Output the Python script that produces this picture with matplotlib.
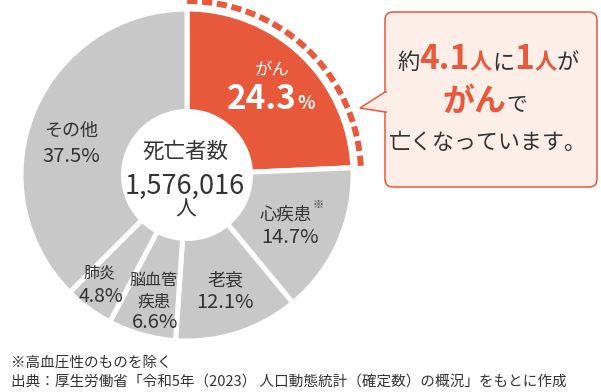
import numpy as np
import matplotlib
matplotlib.use('Agg')
import matplotlib.pyplot as plt
from matplotlib.patches import Circle, Arc, FancyBboxPatch, Polygon

plt.rcParams['font.family'] = ['Noto Sans CJK JP', 'DejaVu Sans']

# data
causes = ['がん', '心疾患※', '老衰', '脳血管\n疾患', '肺炎', 'その他']
shares = [24.3, 14.7, 12.1, 6.6, 4.8, 37.5]
total_deaths = 1576016
note = '※高血圧性のものを除く'
source = '出典：厚生労働省「令和5年（2023） 人口動態統計（確定数）の概況」をもとに作成'

ORANGE = '#e8583a'
GRAY = '#c8c8c8'
DARK = '#333333'
H = 392


def Y(y):
    # pixel row (from top) -> axis y
    return H - y


fig = plt.figure(figsize=(6.01, 3.92), dpi=100)
ax = fig.add_axes([0, 0, 1, 1])

cx, cy, R = 187, 175, 166
colors = [ORANGE] + [GRAY] * (len(shares) - 1)
ax.pie(shares, colors=colors, startangle=90, counterclock=False,
       radius=R, center=(cx, Y(cy)),
       wedgeprops=dict(edgecolor='white', linewidth=3.6))
ax.add_patch(Circle((cx, Y(cy)), 66, facecolor='white', edgecolor='none', zorder=3))

# dashed arc around the cancer slice
end_ang = 90 - 360 * shares[0] / sum(shares)
ax.add_patch(Arc((cx, Y(cy)), 2 * 174, 2 * 174, theta1=end_ang + 0.5, theta2=90,
                 color=ORANGE, lw=4.3, linestyle=(0, (1.7, 0.8)), capstyle='butt'))

ax.set_xlim(0, 601)
ax.set_ylim(0, H)
ax.set_aspect('equal')
ax.axis('off')

fig.canvas.draw()
renderer = fig.canvas.get_renderer()


def lab(x, y, s, size, **kw):
    ax.text(x, Y(y), s, ha='center', va='center', color=kw.pop('color', DARK),
            fontsize=size, zorder=5, **kw)


def rich_line(xc, yb, pieces):
    arts = []
    for s, size, color, weight in pieces:
        t = ax.text(0, Y(yb), s, fontsize=size, color=color, fontweight=weight,
                    ha='left', va='baseline', zorder=6)
        arts.append(t)
    widths = [t.get_window_extent(renderer).width for t in arts]
    x = xc - sum(widths) / 2
    for t, w in zip(arts, widths):
        t.set_x(x)
        x += w


# slice labels
lab(272, 71, causes[0], 12.5, color='white')
rich_line(271, 109, [('%.1f' % shares[0], 24, 'white', 'bold'), ('%', 13, 'white', 'bold')])

lab(71, 131, causes[5], 13)
lab(71, 156, '%.1f%%' % shares[5], 14.5)

lab(286, 214, causes[1].rstrip('※'), 12.5)
lab(318, 205, '※', 8)
lab(290, 237, '%.1f%%' % shares[1], 14.5)

lab(225, 280, causes[2], 13)
lab(225, 302, '%.1f%%' % shares[2], 14.5)

l1, l2 = causes[3].split('\n')
lab(154, 280, l1, 11.5)
lab(154, 302, l2, 12)
lab(155, 322, '%.1f%%' % shares[3], 14.5)

lab(99, 273, causes[4], 11.5)
lab(101, 297, '%.1f%%' % shares[4], 14)

# center text
lab(185, 152, '死亡者数', 15.5)
lab(185, 186, '{:,}'.format(total_deaths), 19.5)
lab(186, 210, '人', 15)

# callout
box = FancyBboxPatch((385, Y(187)), 212, 175, boxstyle='round,pad=0,rounding_size=8',
                     facecolor='#fdeee8', edgecolor=ORANGE, lw=1.1, zorder=4)
ax.add_patch(box)
ax.add_patch(Polygon([(387, Y(92)), (385, Y(92)), (360, Y(108)), (385, Y(112)), (387, Y(112))],
                     closed=False, facecolor='#fdeee8', edgecolor=ORANGE, lw=1.1, zorder=4))

rich_line(488, 69, [('約', 16, DARK, 'normal'), ('4.1', 24, ORANGE, 'bold'),
                    ('人', 16, ORANGE, 'bold'), ('に', 16, DARK, 'normal'),
                    ('1', 24, ORANGE, 'bold'), ('人', 16, ORANGE, 'bold'),
                    ('が', 16, DARK, 'normal')])
rich_line(485, 111, [('がん', 23, ORANGE, 'bold'), ('で', 15, DARK, 'normal')])
rich_line(488, 149, [('亡くなっています。', 15.8, DARK, 'normal')])

# footnotes
ax.text(11, Y(367), note, ha='left', va='baseline', color=DARK, fontsize=10.5)
ax.text(11, Y(387), source, ha='left', va='baseline', color=DARK, fontsize=10.5)

fig.savefig('out.png', dpi=100)
